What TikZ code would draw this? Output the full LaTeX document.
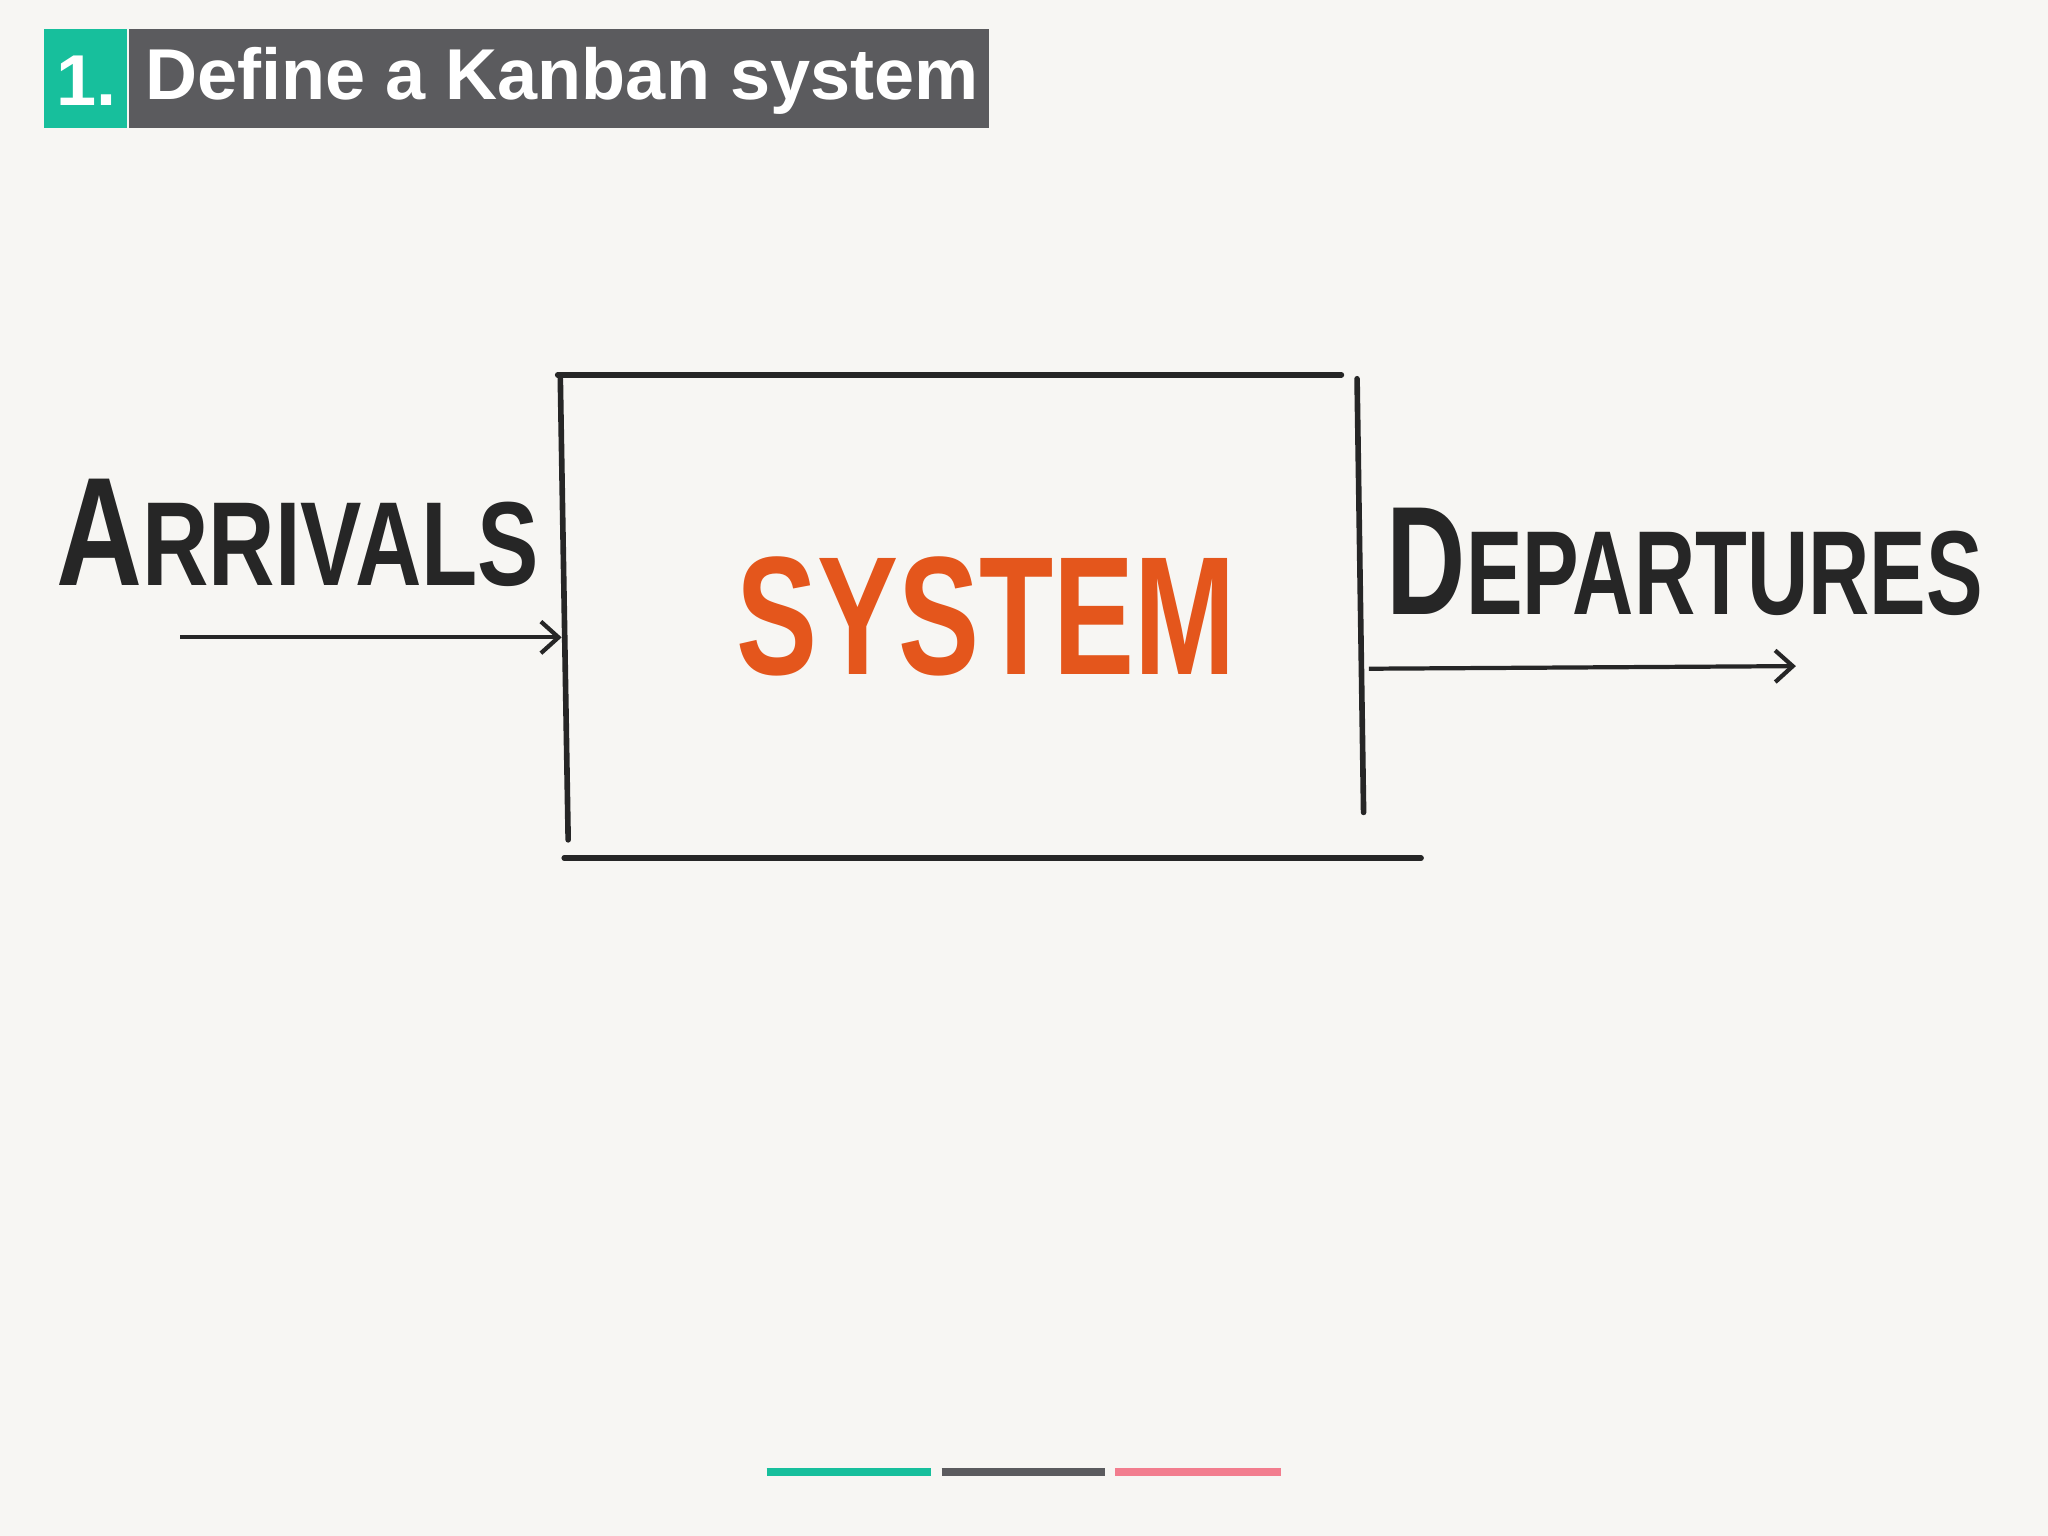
\documentclass[tikz,border=0pt]{standalone}
\usetikzlibrary{arrows.meta}
\usepackage{fontspec}
\setmainfont{Liberation Sans}
\definecolor{bg}{HTML}{F7F6F3}
\definecolor{teal}{HTML}{17BF9C}
\definecolor{hdr}{HTML}{5B5B5E}
\definecolor{ink}{HTML}{262626}
\definecolor{orng}{HTML}{E4561C}
\definecolor{pink}{HTML}{F27D8E}
\begin{document}
\begin{tikzpicture}[x=0.01306cm,y=-0.01306cm,
  ln/.style={ink,line width=1.6pt,line cap=round},
  arr/.style={ink,line width=1.2pt,-{Straight Barb[length=5pt,width=9pt]}},
  hand/.style={font=\bfseries\fontsize{44}{50}\selectfont,text=ink},
  bar/.style={line width=2pt}]
\fill[bg] (0,0) rectangle (1568,1176);
\useasboundingbox (0,0) rectangle (1568,1176);
\fill[teal] (34,22) rectangle (97,98);
\fill[hdr] (99,22) rectangle (757,98);
\node[text=white,font=\bfseries\fontsize{20.5}{24}\selectfont] (num) at (66,62) {1.};
\node[text=white,font=\bfseries\fontsize{20.5}{24}\selectfont,anchor=west] (title) at (102,62) {Define a Kanban system};
\coordinate (tl) at (427,287); \coordinate (tr) at (1027,287);
\coordinate (lt) at (429,290); \coordinate (lb) at (435,643);
\coordinate (rt) at (1039,290); \coordinate (rb) at (1044,622);
\coordinate (bl) at (432,657); \coordinate (br) at (1088,657);
\draw[ln] (tl) -- (tr);
\draw[ln] (lt) -- (lb);
\draw[ln] (rt) -- (rb);
\draw[ln] (bl) -- (br);
\node[hand,xscale=0.77,transform shape] (arr) at (228,408) {A\fontsize{34}{40}\selectfont RRIVALS};
\node[hand,xscale=0.71,transform shape] (dep) at (1290,430) {D\fontsize{34}{40}\selectfont EPARTURES};
\node[font=\bfseries\fontsize{48}{56}\selectfont,text=orng,xscale=0.72,transform shape] (sys) at (755,472) {SYSTEM};
\coordinate (a1) at (138,488); \coordinate (a2) at (430,488);
\coordinate (d1) at (1048,512); \coordinate (d2) at (1375,510);
\draw[arr] (a1) -- (a2);
\draw[arr] (d1) -- (d2);
\draw[bar,teal] (587,1127) -- (713,1127);
\draw[bar,hdr] (721,1127) -- (846,1127);
\draw[bar,pink] (854,1127) -- (981,1127);
\end{tikzpicture}
\end{document}
